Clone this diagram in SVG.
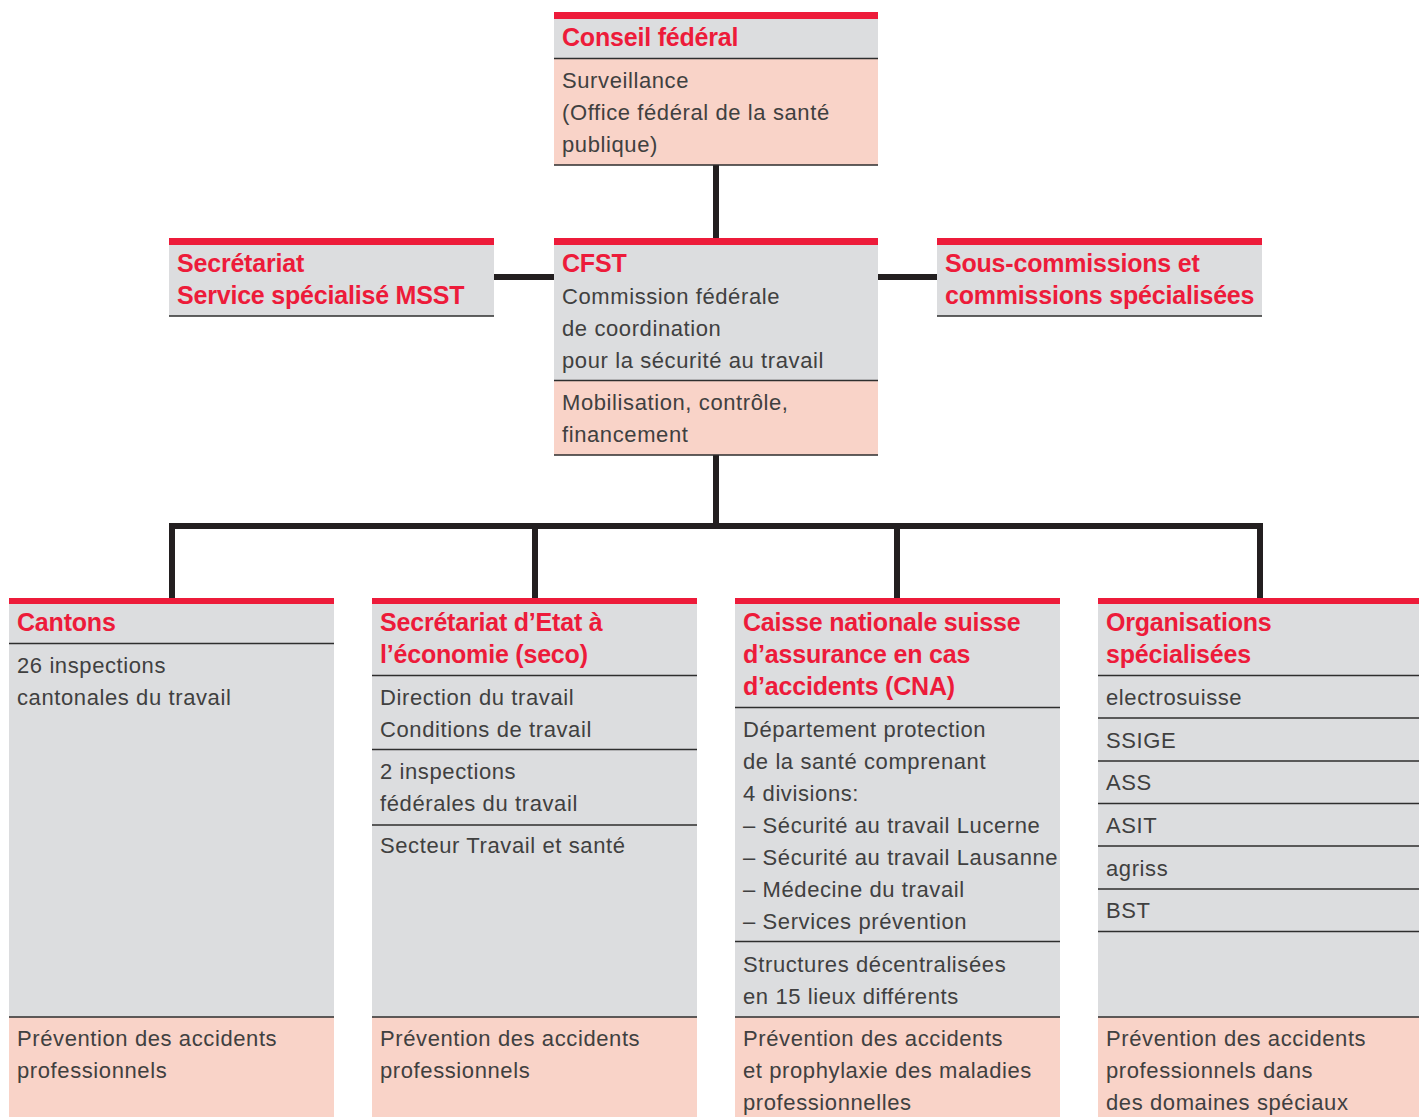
<svg xmlns="http://www.w3.org/2000/svg" width="1419" height="1117" viewBox="0 0 1419 1117">
<style>
.g{fill:#dcdddf}
.p{fill:#f9d3c8}
.r{fill:#ed1b3a}
.d{stroke:#2e2e2e;stroke-width:1.5;fill:none}
.h{font-family:"Liberation Sans",Arial,sans-serif;font-weight:bold;font-size:25px;fill:#ed1b3a;letter-spacing:-0.2px}
.t{font-family:"Liberation Sans",Arial,sans-serif;font-size:22px;fill:#404040;letter-spacing:0.6px}
.c{stroke:#231f20;stroke-width:6;fill:none}
</style>
<rect width="1419" height="1117" fill="#ffffff"/>
<g id="connectors">
<path class="c" d="M716 165V238"/>
<path class="c" d="M494 277H554"/>
<path class="c" d="M878 277H937"/>
<path class="c" d="M716 455V526"/>
<path class="c" d="M172 598V526H1260V598"/>
<path class="c" d="M535 526V598"/>
<path class="c" d="M897 526V598"/>
</g>
<g id="conseil">
<rect class="g" x="554" y="19" width="324" height="40"/>
<rect class="p" x="554" y="59" width="324" height="106"/>
<rect class="r" x="554" y="12" width="324" height="7"/>
<path class="d" d="M554 58.5H878M554 165H878"/>
<text class="h" x="562" y="46">Conseil fédéral</text>
<text class="t" x="562" y="88">Surveillance</text>
<text class="t" x="562" y="120">(Office fédéral de la santé</text>
<text class="t" x="562" y="152">publique)</text>
</g>
<g id="secretariat">
<rect class="g" x="169" y="245" width="325" height="71"/>
<rect class="r" x="169" y="238" width="325" height="7"/>
<path class="d" d="M169 316H494"/>
<text class="h" x="177" y="272">Secrétariat</text>
<text class="h" x="177" y="304">Service spécialisé MSST</text>
</g>
<g id="cfst">
<rect class="g" x="554" y="245" width="324" height="136"/>
<rect class="p" x="554" y="381" width="324" height="74"/>
<rect class="r" x="554" y="238" width="324" height="7"/>
<path class="d" d="M554 380.5H878M554 455H878"/>
<text class="h" x="562" y="272">CFST</text>
<text class="t" x="562" y="304">Commission fédérale</text>
<text class="t" x="562" y="336">de coordination</text>
<text class="t" x="562" y="368">pour la sécurité au travail</text>
<text class="t" x="562" y="410">Mobilisation, contrôle,</text>
<text class="t" x="562" y="442">financement</text>
</g>
<g id="souscommissions">
<rect class="g" x="937" y="245" width="325" height="71"/>
<rect class="r" x="937" y="238" width="325" height="7"/>
<path class="d" d="M937 316H1262"/>
<text class="h" x="945" y="272">Sous-commissions et</text>
<text class="h" x="945" y="304">commissions spécialisées</text>
</g>
<g id="cantons">
<rect class="g" x="9" y="604" width="325" height="413"/>
<rect class="p" x="9" y="1017" width="325" height="100"/>
<rect class="r" x="9" y="598" width="325" height="6"/>
<path class="d" d="M9 643.5H334M9 1017H334"/>
<text class="h" x="17" y="631">Cantons</text>
<text class="t" x="17" y="673">26 inspections</text>
<text class="t" x="17" y="705">cantonales du travail</text>
<text class="t" x="17" y="1046">Prévention des accidents</text>
<text class="t" x="17" y="1078">professionnels</text>
</g>
<g id="seco">
<rect class="g" x="372" y="604" width="325" height="413"/>
<rect class="p" x="372" y="1017" width="325" height="100"/>
<rect class="r" x="372" y="598" width="325" height="6"/>
<path class="d" d="M372 675.5H697M372 749.5H697M372 825H697M372 1017H697"/>
<text class="h" x="380" y="631">Secrétariat d’Etat à</text>
<text class="h" x="380" y="663">l’économie (seco)</text>
<text class="t" x="380" y="705">Direction du travail</text>
<text class="t" x="380" y="737">Conditions de travail</text>
<text class="t" x="380" y="779">2 inspections</text>
<text class="t" x="380" y="811">fédérales du travail</text>
<text class="t" x="380" y="853">Secteur Travail et santé</text>
<text class="t" x="380" y="1046">Prévention des accidents</text>
<text class="t" x="380" y="1078">professionnels</text>
</g>
<g id="cna">
<rect class="g" x="735" y="604" width="325" height="413"/>
<rect class="p" x="735" y="1017" width="325" height="100"/>
<rect class="r" x="735" y="598" width="325" height="6"/>
<path class="d" d="M735 707.5H1060M735 941.5H1060M735 1017H1060"/>
<text class="h" x="743" y="631">Caisse nationale suisse</text>
<text class="h" x="743" y="663">d’assurance en cas</text>
<text class="h" x="743" y="695">d’accidents (CNA)</text>
<text class="t" x="743" y="737">Département protection</text>
<text class="t" x="743" y="769">de la santé comprenant</text>
<text class="t" x="743" y="801">4 divisions:</text>
<text class="t" x="743" y="833">– Sécurité au travail Lucerne</text>
<text class="t" x="743" y="865">– Sécurité au travail Lausanne</text>
<text class="t" x="743" y="897">– Médecine du travail</text>
<text class="t" x="743" y="929">– Services prévention</text>
<text class="t" x="743" y="972">Structures décentralisées</text>
<text class="t" x="743" y="1004">en 15 lieux différents</text>
<text class="t" x="743" y="1046">Prévention des accidents</text>
<text class="t" x="743" y="1078">et prophylaxie des maladies</text>
<text class="t" x="743" y="1110">professionnelles</text>
</g>
<g id="organisations">
<rect class="g" x="1098" y="604" width="321" height="413"/>
<rect class="p" x="1098" y="1017" width="321" height="100"/>
<rect class="r" x="1098" y="598" width="321" height="6"/>
<path class="d" d="M1098 675.5H1419M1098 718H1419M1098 761H1419M1098 803.5H1419M1098 846H1419M1098 889H1419M1098 931.5H1419M1098 1017H1419"/>
<text class="h" x="1106" y="631">Organisations</text>
<text class="h" x="1106" y="663">spécialisées</text>
<text class="t" x="1106" y="705">electrosuisse</text>
<text class="t" x="1106" y="748">SSIGE</text>
<text class="t" x="1106" y="790">ASS</text>
<text class="t" x="1106" y="833">ASIT</text>
<text class="t" x="1106" y="876">agriss</text>
<text class="t" x="1106" y="918">BST</text>
<text class="t" x="1106" y="1046">Prévention des accidents</text>
<text class="t" x="1106" y="1078">professionnels dans</text>
<text class="t" x="1106" y="1110">des domaines spéciaux</text>
</g>
</svg>
